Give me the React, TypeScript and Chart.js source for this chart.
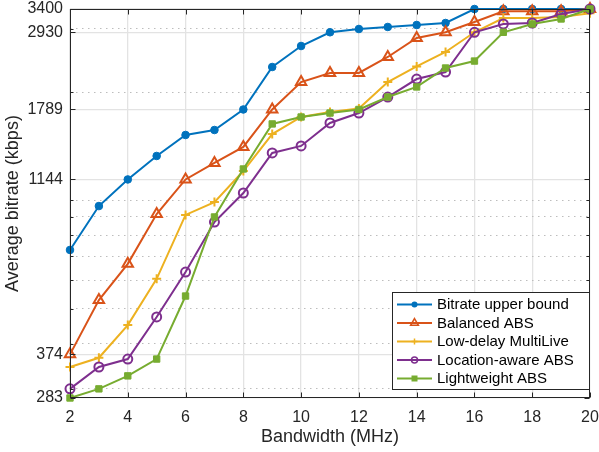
import React, { useEffect, useRef } from 'react';
import { Chart, registerables } from 'chart.js';

Chart.register(...registerables);

const bandwidth = [2, 3, 4, 5, 6, 7, 8, 9, 10, 11, 12, 13, 14, 15, 16, 17, 18, 19, 20];
const upperBound = [729, 965, 1144, 1329, 1520, 1569, 1789, 2347, 2684, 2930, 2992, 3031, 3070, 3109, 3400, 3400, 3400, 3400, 3400];
const balancedABS = [374, 529, 667, 917, 1144, 1271, 1408, 1789, 2132, 2259, 2259, 2502, 2825, 2930, 3128, 3350, 3350, 3350, 3400];
const lowDelayMultiLive = [345, 366, 451, 606, 912, 990, 1207, 1529, 1705, 1760, 1800, 2132, 2355, 2583, 2930, 3210, 3210, 3230, 3310];
const locationAwareABS = [300, 345, 363, 475, 633, 871, 1049, 1355, 1417, 1641, 1749, 1937, 2173, 2273, 2930, 3089, 3109, 3293, 3400];
const lightweightABS = [283, 300, 326, 363, 543, 900, 1223, 1631, 1705, 1749, 1789, 1937, 2066, 2332, 2438, 2930, 3089, 3190, 3400];

const seriesNames = ['Bitrate upper bound', 'Balanced ABS', 'Low-delay MultiLive', 'Location-aware ABS', 'Lightweight ABS'];
const xTicks = [2, 4, 6, 8, 10, 12, 14, 16, 18, 20];
const yMajorTicks = [283, 374, 1144, 1789, 2930, 3400];
const yMinorTicks = [300, 400, 500, 600, 700, 800, 900, 1000, 2000, 3000];

const FONT = '"Liberation Sans", Arial, Helvetica, sans-serif';
const AXIS = '#262626';
const colors = ['#0072BD', '#D95319', '#EDB120', '#7E2F8E', '#77AC30'];
const markers = ['circle', 'triangle', 'cross', 'circleOpen', 'rect'];

const isMajor = (v: any) => yMajorTicks.includes(v);

function drawMarker(ctx: CanvasRenderingContext2D, kind: string, x: number, y: number, r: number, color: string) {
  ctx.save();
  ctx.strokeStyle = color;
  ctx.fillStyle = color;
  ctx.lineWidth = 1.5;
  ctx.beginPath();
  if (kind === 'circle') {
    ctx.arc(x, y, r, 0, Math.PI * 2);
    ctx.fill();
  } else if (kind === 'circleOpen') {
    ctx.arc(x, y, r, 0, Math.PI * 2);
    ctx.stroke();
  } else if (kind === 'triangle') {
    ctx.moveTo(x, y - r);
    ctx.lineTo(x + r * 0.866, y + r * 0.5);
    ctx.lineTo(x - r * 0.866, y + r * 0.5);
    ctx.closePath();
    ctx.stroke();
  } else if (kind === 'cross') {
    ctx.moveTo(x - r, y);
    ctx.lineTo(x + r, y);
    ctx.moveTo(x, y - r);
    ctx.lineTo(x, y + r);
    ctx.stroke();
  } else if (kind === 'rect') {
    ctx.rect(x - r, y - r, 2 * r, 2 * r);
    ctx.fill();
  }
  ctx.restore();
}

const framePlugin = {
  id: 'matlabFrame',
  afterDatasetsDraw(chart: any) {
    const { ctx, chartArea: a, scales } = chart;
    const xs = scales.x;
    const ys = scales.y;
    const L = Math.round(a.left) + 0.5;
    const R = Math.round(a.right) - 0.5;
    const T = Math.round(a.top) + 0.5;
    const B = Math.round(a.bottom) - 0.5;
    ctx.save();
    ctx.strokeStyle = AXIS;
    ctx.lineWidth = 1;
    ctx.beginPath();
    xTicks.forEach((v) => {
      const px = Math.round(xs.getPixelForValue(v)) + 0.5;
      ctx.moveTo(px, B);
      ctx.lineTo(px, B - 5);
      ctx.moveTo(px, T);
      ctx.lineTo(px, T + 5);
    });
    yMajorTicks.forEach((v) => {
      const py = Math.round(ys.getPixelForValue(v)) + 0.5;
      ctx.moveTo(L, py);
      ctx.lineTo(L + 5, py);
      ctx.moveTo(R, py);
      ctx.lineTo(R - 5, py);
    });
    yMinorTicks.forEach((v) => {
      const py = Math.round(ys.getPixelForValue(v)) + 0.5;
      ctx.moveTo(L, py);
      ctx.lineTo(L + 3, py);
      ctx.moveTo(R, py);
      ctx.lineTo(R - 3, py);
    });
    ctx.stroke();
    ctx.strokeRect(L, T, R - L, B - T);
    ctx.restore();
  },
  afterDraw(chart: any) {
    const { ctx, chartArea: a } = chart;
    const w = 197;
    const h = 97;
    const right = Math.round(a.right) - 1;
    const bottom = Math.round(a.bottom) - 9;
    const left = right - w;
    const top = bottom - h;
    ctx.save();
    ctx.fillStyle = '#ffffff';
    ctx.fillRect(left, top, w, h);
    ctx.strokeStyle = AXIS;
    ctx.lineWidth = 1;
    ctx.strokeRect(left + 0.5, top + 0.5, w, h);
    chart.data.datasets.forEach((ds: any, i: number) => {
      const y = top + 12.5 + i * 18.5;
      ctx.strokeStyle = colors[i];
      ctx.lineWidth = 2;
      ctx.beginPath();
      ctx.moveTo(left + 5, y);
      ctx.lineTo(left + 40, y);
      ctx.stroke();
      drawMarker(ctx, markers[i], left + 22.5, y, markers[i] === 'triangle' ? 4.5 : 3, colors[i]);
      ctx.fillStyle = '#000000';
      ctx.font = `15px ${FONT}`;
      ctx.textBaseline = 'middle';
      ctx.textAlign = 'left';
      ctx.fillText(ds.label, left + 45, y + 0.5);
    });
    ctx.restore();
  },
};

export default function App() {
  const canvasRef = useRef<HTMLCanvasElement | null>(null);

  useEffect(() => {
    if (!canvasRef.current) return;
    const allSeries = [upperBound, balancedABS, lowDelayMultiLive, locationAwareABS, lightweightABS];
    const datasets = allSeries.map((vals, i) => {
      const base: any = {
        label: seriesNames[i],
        data: bandwidth.map((b, j) => ({ x: b, y: vals[j] })),
        borderColor: colors[i],
        backgroundColor: colors[i],
        borderWidth: 2,
        pointBorderColor: colors[i],
        pointBorderWidth: 2,
        order: 5 - i,
        clip: false,
        tension: 0,
      };
      if (i === 0) {
        Object.assign(base, { pointStyle: 'circle', pointRadius: 3.8, pointBackgroundColor: colors[i], pointBorderWidth: 1 });
      } else if (i === 1) {
        Object.assign(base, { pointStyle: 'triangle', pointRadius: 6, pointBackgroundColor: 'rgba(0,0,0,0)' });
      } else if (i === 2) {
        Object.assign(base, { pointStyle: 'cross', pointRadius: 4.5, pointBorderWidth: 2 });
      } else if (i === 3) {
        Object.assign(base, { pointStyle: 'circle', pointRadius: 4.5, pointBackgroundColor: 'rgba(0,0,0,0)' });
      } else {
        Object.assign(base, { pointStyle: 'rect', pointRadius: 4.5, pointBackgroundColor: colors[i], pointBorderWidth: 1 });
      }
      return base;
    });

    const chart = new Chart(canvasRef.current, {
      type: 'line',
      data: { datasets },
      plugins: [framePlugin],
      options: {
        animation: false,
        responsive: false,
        maintainAspectRatio: false,
        layout: { padding: 0 },
        plugins: { legend: { display: false }, tooltip: { enabled: false } },
        scales: {
          x: {
            type: 'linear',
            min: 2,
            max: 20,
            afterBuildTicks: (s: any) => {
              s.ticks = xTicks.map((v) => ({ value: v }));
            },
            afterFit: (s: any) => {
              s.height = 54;
              s.paddingRight = 9;
              s.paddingLeft = 0;
            },
            ticks: {
              color: AXIS,
              font: { family: FONT, size: 16, lineHeight: 1 },
              padding: 12,
              autoSkip: false,
              maxRotation: 0,
            },
            grid: { drawTicks: false, color: '#e3e3e3', lineWidth: 1.3 },
            border: { display: false },
            title: {
              display: true,
              text: 'Bandwidth (MHz)',
              color: AXIS,
              font: { family: FONT, size: 18, lineHeight: 1.2 },
              padding: { top: 0, bottom: 4 },
            },
          },
          y: {
            type: 'logarithmic',
            min: 283,
            max: 3400,
            afterBuildTicks: (s: any) => {
              s.ticks = [...yMajorTicks, ...yMinorTicks].sort((p, q) => p - q).map((v) => ({ value: v }));
            },
            afterFit: (s: any) => {
              s.width = 70;
              s.paddingTop = 9;
              s.paddingBottom = 0;
            },
            ticks: {
              color: AXIS,
              font: { family: FONT, size: 16, lineHeight: 1 },
              padding: 7,
              autoSkip: false,
              callback: (v: any) => (isMajor(v) ? String(v) : ''),
            },
            grid: {
              drawTicks: false,
              color: (c: any) => (c.tick && isMajor(c.tick.value) ? '#e3e3e3' : '#bdbdbd'),
              lineWidth: (c: any) => (c.tick && isMajor(c.tick.value) ? 1.3 : 1),
            },
            border: {
              display: false,
              dash: (c: any) => (c.tick && !isMajor(c.tick.value) ? [1.5, 4.5] : []),
            },
            title: {
              display: true,
              text: 'Average bitrate (kbps)',
              color: AXIS,
              font: { family: FONT, size: 18, lineHeight: 1.2 },
              padding: { top: 2, bottom: 0 },
            },
          },
        },
      } as any,
    });
    return () => chart.destroy();
  }, []);

  return (
    <div style={{ position: 'fixed', left: 0, top: 0, width: 599, height: 452, background: '#ffffff' }}>
      <canvas ref={canvasRef} width={599} height={452} style={{ width: 599, height: 452, display: 'block' }} />
    </div>
  );
}
